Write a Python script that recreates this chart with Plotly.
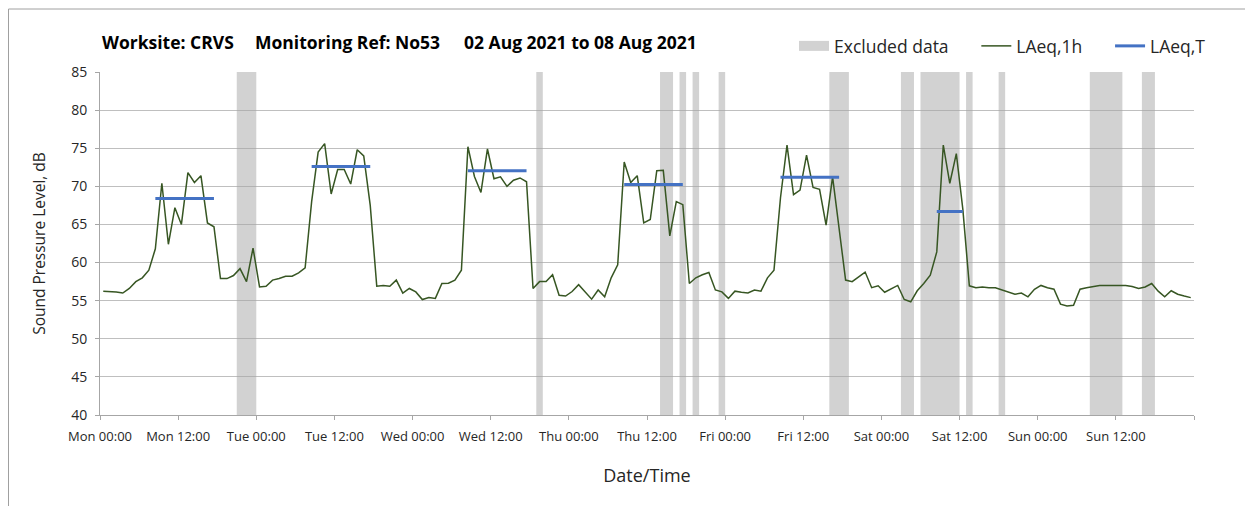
import pandas as pd
import plotly.graph_objects as go

# ---------------- data ----------------
start = "2021-08-02 00:30"
laeq_1h = [
    56.25, 56.2, 56.15, 56.0, 56.6, 57.5, 58.0, 59.0, 61.8, 70.4,
    62.4, 67.2, 65.0, 71.8, 70.5, 71.4, 65.2, 64.7, 57.9, 57.9,
    58.3, 59.2, 57.5, 61.9, 56.8, 56.9, 57.7, 57.9, 58.2, 58.2,
    58.65, 59.3, 68.0, 74.5, 75.6, 69.0, 72.2, 72.2, 70.3, 74.8,
    74.0, 67.5, 56.9, 57.0, 56.9, 57.7, 56.0, 56.6, 56.15, 55.15,
    55.4, 55.3, 57.25, 57.3, 57.7, 59.0, 75.2, 71.3, 69.2, 74.9,
    71.0, 71.25, 70.0, 70.8, 71.1, 70.6, 56.6, 57.5, 57.5, 58.4,
    55.7, 55.6, 56.2, 57.1, 56.2, 55.2, 56.4, 55.5, 58.0, 59.7,
    73.2, 70.5, 71.4, 65.2, 65.65, 72.05, 72.1, 63.5, 68.0, 67.6,
    57.25, 58.0, 58.4, 58.7, 56.4, 56.15, 55.3, 56.25, 56.1, 56.0,
    56.4, 56.25, 58.0, 59.0, 68.5, 75.4, 68.9, 69.5, 74.1, 69.85,
    69.6, 64.9, 71.25, 64.5, 57.7, 57.5, 58.1, 58.75, 56.7, 56.95,
    56.1, 56.5, 57.0, 55.15, 54.85, 56.3, 57.25, 58.35, 61.4, 75.4,
    70.4, 74.3, 67.0, 56.95, 56.7, 56.8, 56.7, 56.7, 56.4, 56.15,
    55.85, 56.0, 55.5, 56.5, 57.0, 56.7, 56.5, 54.55, 54.3, 54.4,
    56.5, 56.7, 56.9, 57.0, 57.0, 57.0, 57.0, 57.0, 56.85, 56.6,
    56.8, 57.25, 56.25, 55.5, 56.3, 55.85, 55.6, 55.4,
]
# LAeq,T periods (hour index of first and last hourly value) and levels
laeqT_from = [8, 32, 56, 80, 104, 128]
laeqT_to = [17, 41, 65, 89, 113, 132]
laeqT_value = [68.4, 72.6, 72.05, 70.25, 71.2, 66.7]
# Excluded data periods, hours from Mon 00:00
excl_start = [21, 67, 86, 89, 91, 95, 112, 123, 126, 133, 138, 152, 160]
excl_end = [24, 68, 88, 90, 92, 96, 115, 125, 132, 134, 139, 157, 162]
# axis ticks
tick_times = pd.date_range("2021-08-02 00:00", "2021-08-09 00:00", freq="12h")
tick_labels = [t.strftime("%a %H:%M") for t in tick_times[:-1]] + [""]
day_lines = pd.date_range("2021-08-03 00:00", "2021-08-09 00:00", freq="24h")

# ---------------- build ----------------
times = pd.date_range(start, periods=len(laeq_1h), freq="h")
t0 = pd.Timestamp("2021-08-02 00:00")
HOUR_MS = 3600 * 1000

ex_x = [t0 + pd.Timedelta(hours=(s + e) / 2) for s, e in zip(excl_start, excl_end)]
ex_w = [(e - s) * HOUR_MS for s, e in zip(excl_start, excl_end)]

lt_x, lt_y = [], []
for a, b, v in zip(laeqT_from, laeqT_to, laeqT_value):
    lt_x += [times[a], times[b], None]
    lt_y += [v, v, None]

FONT = "Open Sans"
TXT = "#262626"
EXCL = "rgba(166,166,166,0.5)"
PAD = "\u00a0" * 5

# plot-area geometry in figure pixels
L, R, T, B = 92, 67, 64, 99
PW, PH = 1253 - L - R, 506 - T - B


def px_x(x):
    return (x - L) / PW


def px_y(y):
    return (506 - B - y) / PH


fig = go.Figure()
# legend entry for excluded data (wide grey swatch)
fig.add_trace(go.Scatter(
    x=[None], y=[None], mode="lines", name="Excluded data" + PAD, legendgroup="excl",
    line=dict(color="#d2d2d2", width=12), hoverinfo="skip",
))
fig.add_trace(go.Bar(
    x=ex_x, y=[45] * len(ex_x), base=40, width=ex_w,
    marker=dict(color=EXCL, line=dict(width=0)),
    name="Excluded data", legendgroup="excl", showlegend=False, hoverinfo="skip",
))
fig.add_trace(go.Scatter(
    x=times, y=laeq_1h, mode="lines", name="LAeq,1h" + PAD,
    line=dict(color="#375623", width=1.5),
))
fig.add_trace(go.Scatter(
    x=lt_x, y=lt_y, mode="lines", name="LAeq,T",
    line=dict(color="#4472C4", width=3), connectgaps=False,
))

rng = ["2021-08-02 00:00", "2021-08-09 00:00"]
fig.update_layout(
    width=1253, height=506,
    margin=dict(l=L, r=R, t=T, b=B),
    paper_bgcolor="white", plot_bgcolor="white",
    barmode="overlay",
    font=dict(family=FONT, color=TXT, size=13),
    showlegend=True,
    legend=dict(orientation="h", x=px_x(786), y=px_y(38), xanchor="left", yanchor="middle",
                font=dict(size=17.5, family=FONT, color=TXT),
                bgcolor="rgba(0,0,0,0)", traceorder="normal", itemwidth=30),
    xaxis=dict(
        type="date", range=rng, tickmode="array", tickvals=tick_times, ticktext=tick_labels,
        showgrid=False, showline=True, linecolor="#a6a6a6", linewidth=1,
        ticks="outside", ticklen=4, tickcolor="#a6a6a6", ticklabelstandoff=5,
        tickfont=dict(size=13, family=FONT, color=TXT),
        title=dict(text="Date/Time", font=dict(size=18, family=FONT, color=TXT), standoff=25),
        zeroline=False,
    ),
    xaxis2=dict(
        type="date", range=rng, overlaying="x", anchor="y", tickmode="array", tickvals=day_lines,
        showgrid=True, gridcolor="#d9d9d9", gridwidth=1, showticklabels=False, ticks="",
        showline=False, zeroline=False,
    ),
    yaxis=dict(
        range=[40, 85], dtick=5, tick0=40, showgrid=True, gridcolor="#bfbfbf", gridwidth=1,
        showline=True, linecolor="#a6a6a6", linewidth=1, ticks="outside", ticklen=4,
        ticklabelstandoff=5,
        tickcolor="#a6a6a6", tickfont=dict(size=14, family=FONT, color=TXT), zeroline=False,
        title=dict(text="Sound Pressure Level, dB", font=dict(size=15.5, family=FONT, color=TXT), standoff=21),
    ),
)

# title parts
for txt, px in [("Worksite: CRVS", 92), ("Monitoring Ref: No53", 245), ("02 Aug 2021 to 08 Aug 2021", 454)]:
    fig.add_annotation(text=f"<b>{txt}</b>", xref="paper", yref="paper",
                       x=px_x(px), y=px_y(34), xanchor="left", yanchor="middle",
                       showarrow=False, font=dict(size=17.5, family=FONT, color="#000000"))

# outer chart border
fig.add_shape(type="rect", xref="paper", yref="paper",
              x0=px_x(0.5), x1=px_x(1300), y0=px_y(560), y1=px_y(1),
              line=dict(color="#a0a0a0", width=1), fillcolor="rgba(0,0,0,0)", layer="below")

fig.write_html("out.html")
